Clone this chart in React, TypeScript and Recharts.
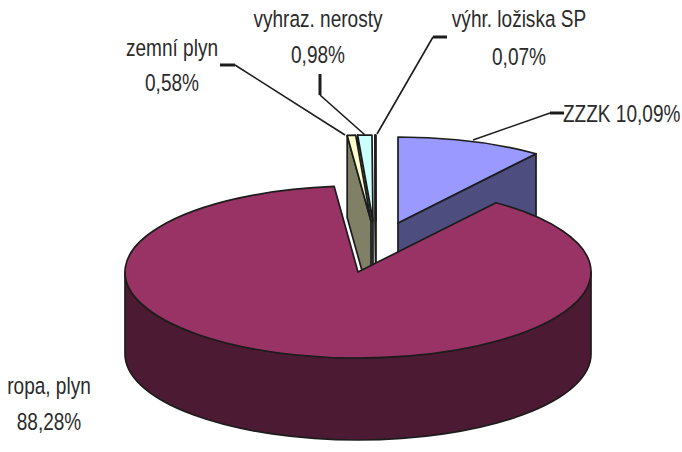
// App.tsx - 3D exploded pie, flat Recharts sectors squashed into an ellipse
import { PieChart, Pie } from "recharts";

const NAMES = ["ZZZK", "ropa, plyn", "zemní plyn", "vyhraz. nerosty", "výhr. ložiska SP"];
const VALUES = [10.09, 88.28, 0.58, 0.98, 0.07];
const PERCENT_LABELS = ["10,09%", "88,28%", "0,58%", "0,98%", "0,07%"];

const TOP_COLORS = ["#9999ff", "#993366", "#ffffcc", "#ccffff", "#660066"];
const SIDE_COLORS = ["#4d4d80", "#4d1a33", "#808066", "#668080", "#330033"];

// how far each slice is pulled out of the pie, in px
const EXPLODE_X = [40, 0, 13, 15, 18];
const EXPLODE_Y = [-49, 0, -51, -51, -51];

// back to front, the small slices overlap each other the other way round
const PAINT_ORDER = [4, 3, 2, 0, 1];

const CX = 358;
const CY = 272;
const RX = 233;
const RY = 86;
const DEPTH = 82;
const LINE = "#1c1c1c";
const TEXT = "#2b2b2b";
// no narrow font installed, so Liberation Sans gets squeezed
const SQUEEZE = 0.81;

const data = NAMES.map((name, i) => ({ name, value: VALUES[i] }));

const rad = (a: number) => (a * Math.PI) / 180;

function Slice3D(props: any) {
  const { cx, cy, outerRadius, startAngle, endAngle, index } = props;
  const ox = cx + EXPLODE_X[index];
  const oy = cy + EXPLODE_Y[index];
  const ry = (outerRadius * RY) / RX;
  const px = (a: number) => ox + outerRadius * Math.cos(rad(a));
  const py = (a: number) => oy - ry * Math.sin(rad(a));
  const arc = (a0: number, a1: number, dy: number, sweep: number) =>
    `A${outerRadius} ${ry} 0 ${Math.abs(a1 - a0) > 180 ? 1 : 0} ${sweep} ${px(a1)} ${py(a1) + dy}`;

  const parts: any[] = [];
  const style = { stroke: LINE, strokeWidth: 1.7, strokeLinejoin: "round" as const };

  const cut = (a: number, key: string) => (
    <path
      key={key}
      d={`M${ox} ${oy}L${px(a)} ${py(a)}L${px(a)} ${py(a) + DEPTH}L${ox} ${oy + DEPTH}Z`}
      fill={SIDE_COLORS[index]}
      {...style}
    />
  );
  // only the cut faces turned towards the viewer
  if (Math.cos(rad(startAngle)) < -1e-6) parts.push(cut(startAngle, "start"));
  if (Math.cos(rad(endAngle)) > 1e-6) parts.push(cut(endAngle, "end"));

  // outer wall, front half of the ellipse only
  const from = Math.min(startAngle, 0);
  const to = Math.max(endAngle, -180);
  if (from > to) {
    parts.push(
      <path
        key="wall"
        d={`M${px(from)} ${py(from)}${arc(from, to, 0, 1)}L${px(to)} ${py(to) + DEPTH}${arc(to, from, DEPTH, 0)}Z`}
        fill={SIDE_COLORS[index]}
        {...style}
      />
    );
  }

  parts.push(
    <path
      key="top"
      d={`M${ox} ${oy}L${px(startAngle)} ${py(startAngle)}${arc(startAngle, endAngle, 0, 1)}Z`}
      fill={TOP_COLORS[index]}
      {...style}
    />
  );
  return <g>{parts}</g>;
}

function LabelText({ x, y, children, anchor = "middle" }: any) {
  return (
    <text
      transform={`translate(${x} ${y}) scale(${SQUEEZE} 1)`}
      textAnchor={anchor}
      fontFamily="'Liberation Sans', Arial, sans-serif"
      fontSize={23.5}
      fill={TEXT}
    >
      {children}
    </text>
  );
}

function Leader({ thick, thin }: { thick: string; thin: string }) {
  return (
    <g fill="none" stroke={LINE}>
      <polyline points={thick} strokeWidth={3} />
      <polyline points={thin} strokeWidth={1.6} />
    </g>
  );
}

function SliceLabel({ index }: any) {
  if (index === 0) {
    return (
      <g>
        <Leader thick="550,113 564,113" thin="550,113 473,140" />
        <LabelText x={563} y={122} anchor="start">{`${NAMES[0]} ${PERCENT_LABELS[0]}`}</LabelText>
      </g>
    );
  }
  if (index === 1) {
    return (
      <g>
        <LabelText x={49} y={394}>{NAMES[1]}</LabelText>
        <LabelText x={49} y={430}>{PERCENT_LABELS[1]}</LabelText>
      </g>
    );
  }
  if (index === 2) {
    return (
      <g>
        <Leader thick="220,65 235,65" thin="235,65 345,135" />
        <LabelText x={172} y={56}>{NAMES[2]}</LabelText>
        <LabelText x={172} y={91}>{PERCENT_LABELS[2]}</LabelText>
      </g>
    );
  }
  if (index === 3) {
    return (
      <g>
        <Leader thick="320,74 320,95" thin="320,95 365,135" />
        <LabelText x={318} y={27}>{NAMES[3]}</LabelText>
        <LabelText x={318} y={63}>{PERCENT_LABELS[3]}</LabelText>
      </g>
    );
  }
  return (
    <g>
      <Leader thick="433,37 447,37" thin="433,37 377,134" />
      <LabelText x={519} y={27}>{NAMES[4]}</LabelText>
      <LabelText x={519} y={65}>{PERCENT_LABELS[4]}</LabelText>
    </g>
  );
}

export default function App() {
  return (
    <div style={{ position: "absolute", left: 0, top: 0 }}>
      <PieChart width={682} height={452} margin={{ top: 0, right: 0, bottom: 0, left: 0 }}>
        {PAINT_ORDER.map((slice, i) => (
          <Pie
            key={slice}
            data={data}
            dataKey="value"
            nameKey="name"
            cx={CX}
            cy={CY}
            innerRadius={0}
            outerRadius={RX}
            startAngle={90}
            endAngle={-270}
            stroke="none"
            isAnimationActive={false}
            labelLine={false}
            label={i === PAINT_ORDER.length - 1 ? (p: any) => <SliceLabel {...p} /> : false}
            shape={(p: any) => (p.index === slice ? <Slice3D {...p} /> : <g />)}
          />
        ))}
      </PieChart>
    </div>
  );
}
